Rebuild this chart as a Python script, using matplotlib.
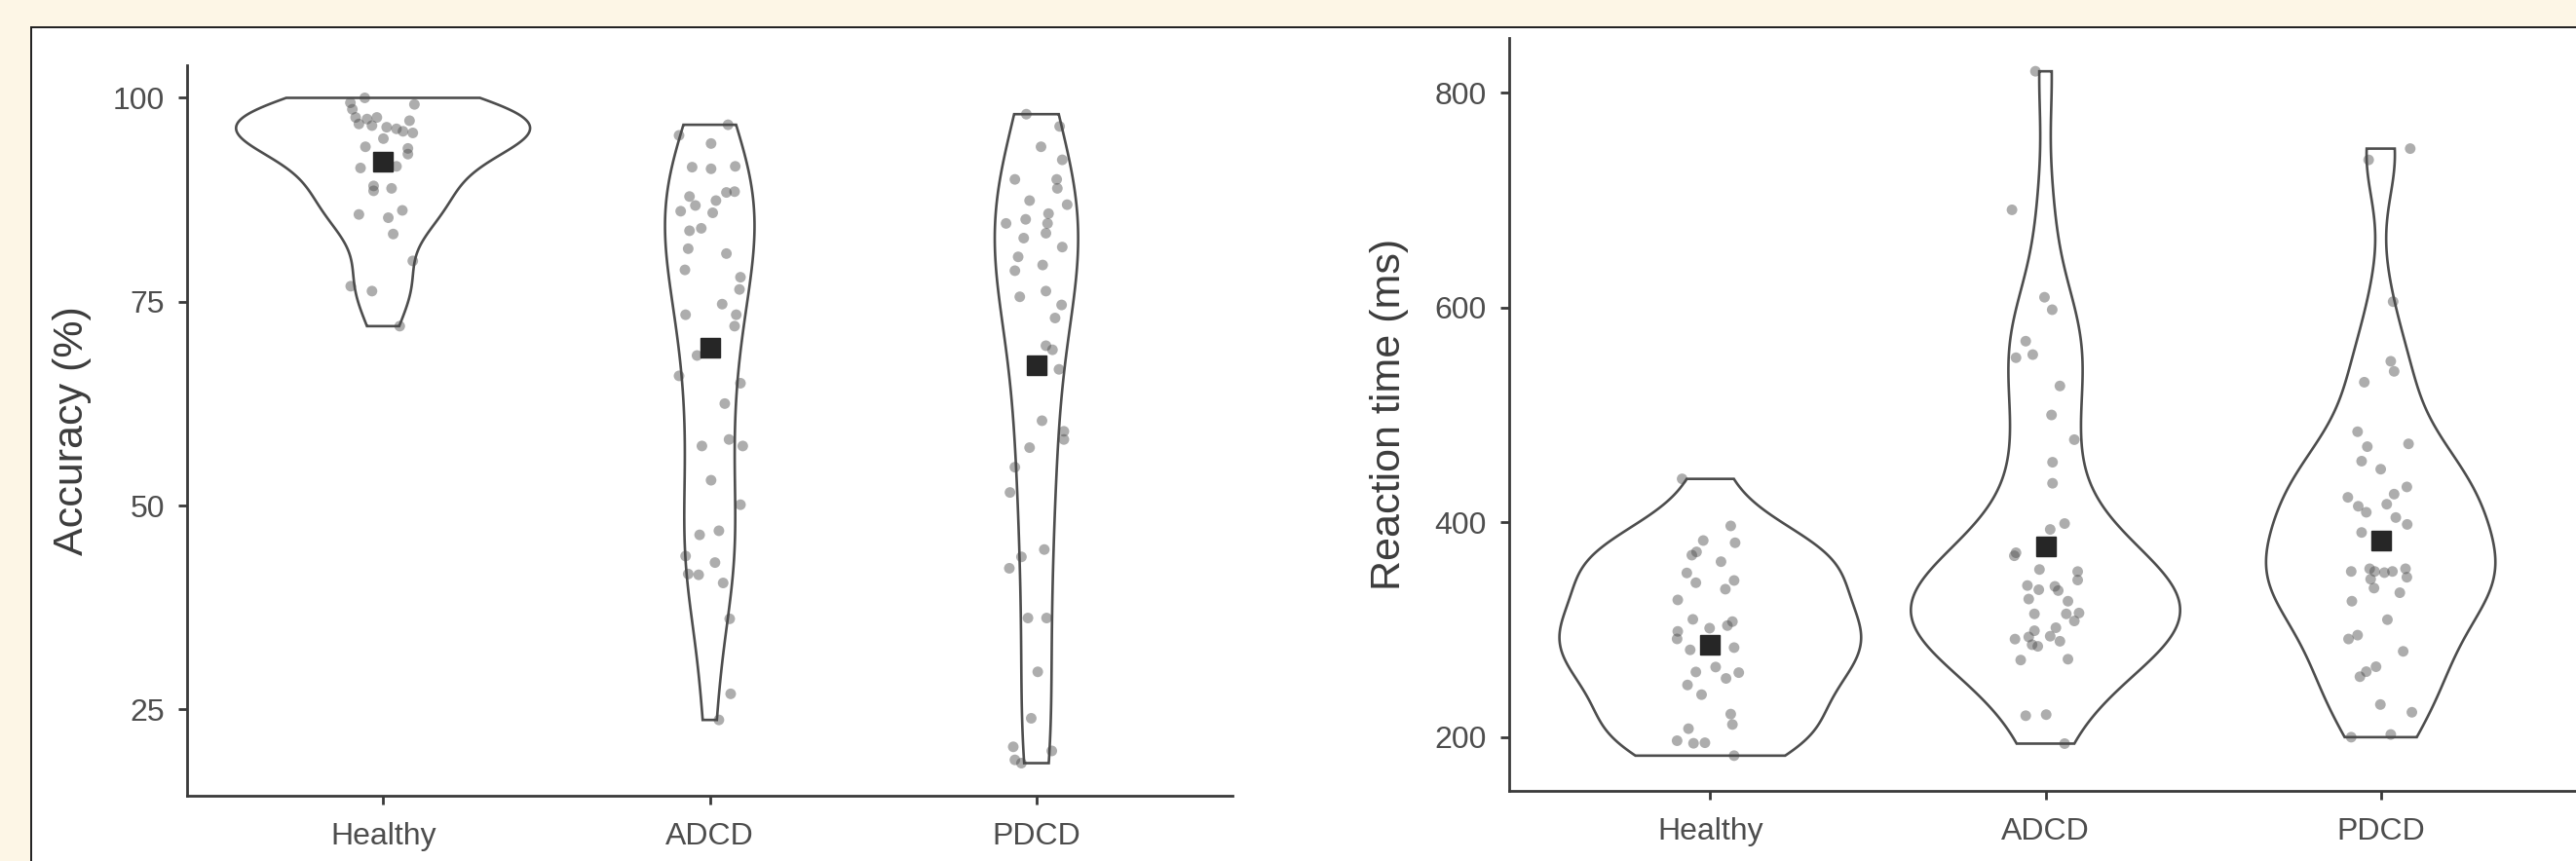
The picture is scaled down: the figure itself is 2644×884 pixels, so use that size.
import numpy as np
import matplotlib
matplotlib.use("Agg")
import matplotlib.pyplot as plt
from matplotlib.lines import Line2D
from matplotlib.patches import Rectangle

plt.rcParams["font.family"] = ["Liberation Sans", "DejaVu Sans"]

groups = ["Healthy", "ADCD", "PDCD"]

# accuracy (%) per group, with the horizontal jitter
acc_healthy = [100.0, 99.4, 99.2, 98.6, 97.6, 97.4, 97.6, 96.8, 96.6, 97.2,
               96.4, 96.2, 95.9, 95.7, 95.0, 94.0, 93.8, 93.1, 91.4, 91.6,
               89.2, 88.9, 88.6, 85.7, 85.3, 86.2, 83.3, 80.0, 76.9, 76.3, 72.0]
acc_healthy_dx = [-0.056, -0.100, 0.096, -0.094, -0.084, -0.049, -0.019, -0.074, -0.034, 0.081,
                  0.011, 0.041, 0.061, 0.091, 0.001, -0.054, 0.076, 0.076, -0.069, 0.041,
                  -0.029, 0.026, -0.029, -0.074, 0.016, 0.059, 0.031, 0.091, -0.099, -0.034, 0.051]

acc_adcd = [95.4, 94.4, 96.7, 91.5, 91.3, 91.6, 87.9, 86.8, 86.1, 87.4,
            85.9, 88.4, 88.5, 83.7, 84.0, 81.5, 78.9, 80.9, 78.0, 76.5,
            74.7, 73.4, 73.4, 72.0, 68.4, 65.9, 65.0, 62.5, 58.1, 57.3,
            57.3, 53.1, 50.1, 46.4, 46.9, 43.8, 43.0, 41.6, 41.5, 40.5,
            36.1, 26.9, 23.7]
acc_adcd_dx = [-0.094, 0.004, 0.056, -0.054, 0.004, 0.078, -0.062, -0.044, -0.089, 0.019,
               0.009, 0.051, 0.076, -0.062, -0.026, -0.066, -0.076, 0.051, 0.094, 0.091,
               0.038, -0.074, 0.081, 0.076, -0.039, -0.094, 0.094, 0.046, 0.059, 0.101,
               -0.024, 0.004, 0.094, -0.031, 0.028, -0.074, 0.016, -0.066, -0.034, 0.041,
               0.061, 0.064, 0.028]

acc_pdcd = [98.0, 96.5, 94.0, 92.4, 90.0, 90.0, 88.9, 87.4, 86.9, 85.8,
            84.6, 85.1, 84.6, 83.4, 82.8, 81.7, 80.5, 79.5, 78.8, 76.3,
            75.6, 74.6, 73.0, 69.6, 69.1, 66.7, 60.4, 59.1, 58.1, 57.1,
            54.7, 51.6, 44.6, 43.7, 42.3, 36.2, 36.2, 29.6, 23.9, 20.4,
            19.9, 18.8, 18.4]
acc_pdcd_dx = [-0.031, 0.071, 0.014, 0.079, -0.066, 0.062, 0.064, -0.021, 0.094, 0.037,
               -0.093, -0.033, 0.034, 0.029, -0.039, 0.079, -0.056, 0.019, -0.066, 0.029,
               -0.051, 0.077, 0.057, 0.029, 0.049, 0.069, 0.017, 0.084, 0.084, -0.021,
               -0.066, -0.081, 0.024, -0.046, -0.083, -0.026, 0.031, 0.004, -0.016, -0.071,
               0.047, -0.066, -0.046]

acc_means = [92.2, 69.3, 67.2]

# reaction time (ms)
rt_healthy = [440.5, 396.7, 383.1, 381.0, 372.5, 369.5, 363.4, 352.9, 343.8, 345.9,
              337.8, 327.8, 309.7, 307.6, 301.5, 298.5, 291.5, 303.9, 281.3, 283.4,
              260.7, 265.3, 254.7, 260.1, 248.6, 239.6, 221.5, 211.8, 207.9, 196.7,
              194.3, 194.8, 182.8]
rt_healthy_dx = [-0.084, 0.061, -0.021, 0.074, -0.041, -0.055, 0.032, -0.070, -0.043, 0.071,
                 0.045, -0.097, -0.052, 0.066, -0.002, -0.097, -0.099, 0.051, -0.060, 0.071,
                 -0.043, 0.016, 0.047, 0.085, -0.068, -0.026, 0.061, 0.066, -0.065, -0.099,
                 -0.050, -0.016, 0.071]

rt_adcd = [820.0, 691.0, 609.6, 598.0, 568.7, 556.2, 553.3, 527.0, 500.0, 477.0,
           456.0, 436.4, 398.9, 393.4, 371.7, 368.9, 356.1, 354.2, 346.3, 341.2,
           337.3, 340.4, 336.5, 328.6, 326.6, 314.8, 314.8, 315.6, 308.2, 301.9,
           299.1, 291.3, 293.3, 294.0, 289.3, 286.1, 284.6, 271.8, 272.6, 220.0,
           221.0, 194.0]
rt_adcd_dx = [-0.030, -0.100, -0.003, 0.020, -0.059, -0.038, -0.088, 0.043, 0.018, 0.086,
              0.021, 0.021, 0.057, 0.014, -0.088, -0.093, -0.018, 0.096, 0.096, -0.054,
              -0.020, 0.028, 0.038, -0.050, 0.067, -0.033, 0.062, 0.100, 0.086, 0.031,
              -0.033, -0.091, -0.050, 0.014, 0.043, -0.040, -0.023, -0.074, 0.067, -0.059,
              0.002, 0.057]

rt_pdcd = [748.0, 737.5, 605.5, 550.0, 540.6, 530.5, 484.4, 473.1, 470.5, 457.0,
           449.5, 433.0, 426.3, 423.3, 415.0, 416.9, 409.4, 404.5, 398.1, 390.6,
           354.3, 356.8, 354.3, 353.2, 354.3, 356.8, 348.9, 347.1, 338.8, 334.5,
           326.6, 309.4, 291.4, 295.0, 279.9, 256.3, 261.0, 265.6, 230.4, 223.2,
           200.0, 202.5]
rt_pdcd_dx = [0.088, -0.036, 0.037, 0.030, 0.040, -0.049, -0.069, 0.083, -0.040, -0.057,
              0.000, 0.078, 0.040, -0.098, -0.067, 0.018, -0.043, 0.045, 0.079, -0.057,
              -0.088, -0.033, -0.018, 0.011, 0.035, 0.074, 0.078, -0.030, -0.020, 0.057,
              -0.086, 0.020, -0.096, -0.069, 0.067, -0.062, -0.043, -0.014, -0.001, 0.093,
              -0.088, 0.030]

rt_means = [286.4, 377.6, 383.0]

acc_ticks = [25, 50, 75, 100]
rt_ticks = [200, 400, 600, 800]

W, H = 2644, 884
outline = "#4d4d4d"
axis_col = "#3a3a3a"
tick_col = "#4d4d4d"


def density(values):
    # gaussian kde with R's nrd0 bandwidth, trimmed to the data range
    v = np.asarray(values, dtype=float)
    n = len(v)
    q75, q25 = np.percentile(v, [75, 25])
    bw = 0.9 * min(v.std(ddof=1), (q75 - q25) / 1.34) * n ** -0.2
    grid = np.linspace(v.min(), v.max(), 512)
    d = np.exp(-0.5 * ((grid[:, None] - v[None, :]) / bw) ** 2).sum(axis=1)
    d = d / (n * bw * np.sqrt(2 * np.pi))
    return grid, d


def violin_panel(ax, data, jitter, means, ylim, ticks, ylabel):

    dens = [density(vals) for vals in data]
    dmax = max(d.max() for _, d in dens)

    for i, (grid, d) in enumerate(dens):
        half = d / dmax * 0.45
        xs = np.concatenate([i - half, (i + half)[::-1]])
        ys = np.concatenate([grid, grid[::-1]])
        ax.fill(xs, ys, facecolor="white", edgecolor=outline, linewidth=1.9, zorder=1)

    for i, (vals, dx) in enumerate(zip(data, jitter)):
        ax.scatter(
            i + np.asarray(dx),
            vals,
            s=62,
            color="#4a4a4a",
            alpha=0.45,
            edgecolors="none",
            zorder=2,
        )

    ax.plot(range(len(means)), means, linestyle="none", marker="s",
            markersize=14, color="#262626", zorder=3)

    ax.set_xlim(-0.6, 2.6)
    ax.set_ylim(*ylim)
    ax.set_xticks(range(len(groups)))
    ax.set_xticklabels(groups)
    ax.set_yticks(ticks)

    for side in ["top", "right"]:
        ax.spines[side].set_visible(False)
    for side in ["left", "bottom"]:
        ax.spines[side].set_color(axis_col)
        ax.spines[side].set_linewidth(2.0)

    ax.tick_params(axis="both", direction="out", length=6.5, width=2.0,
                   color=axis_col, labelcolor=tick_col, labelsize=23)
    ax.tick_params(axis="x", pad=13)
    ax.tick_params(axis="y", pad=10)

    ax.set_ylabel(ylabel, fontsize=31, color="#3c3c3c")
    ax.patch.set_alpha(0)


fig = plt.figure(figsize=(W / 100, H / 100), dpi=100)
fig.patch.set_facecolor("#FDF6E6")

# white card with a thin dark border on the top and left
card = Rectangle((32 / W, 0), 1 - 32 / W, 1 - 28 / H,
                 transform=fig.transFigure, facecolor="white",
                 edgecolor="none", zorder=-10)
fig.patches.append(card)
fig.lines.append(Line2D([32 / W, 32 / W], [0, 1 - 28 / H], transform=fig.transFigure,
                        color="#1e1e1e", linewidth=1.4, zorder=-5))
fig.lines.append(Line2D([32 / W, 1], [1 - 28 / H, 1 - 28 / H], transform=fig.transFigure,
                        color="#1e1e1e", linewidth=1.4, zorder=-5))

ax1 = fig.add_axes([192 / W, 1 - 817 / H, (1265 - 192) / W, (817 - 67) / H])
ax2 = fig.add_axes([1549 / W, 1 - 812 / H, 1101 / W, (812 - 39) / H])

violin_panel(
    ax1,
    [acc_healthy, acc_adcd, acc_pdcd],
    [acc_healthy_dx, acc_adcd_dx, acc_pdcd_dx],
    acc_means,
    (14.4, 104.0),
    acc_ticks,
    "Accuracy (%)",
)

violin_panel(
    ax2,
    [rt_healthy, rt_adcd, rt_pdcd],
    [rt_healthy_dx, rt_adcd_dx, rt_pdcd_dx],
    rt_means,
    (150.0, 851.0),
    rt_ticks,
    "Reaction time (ms)",
)

ax1.yaxis.set_label_coords(-0.091, 0.5)
ax2.yaxis.set_label_coords(-0.094, 0.5)

fig.savefig("out.png", dpi=100, facecolor=fig.get_facecolor())
